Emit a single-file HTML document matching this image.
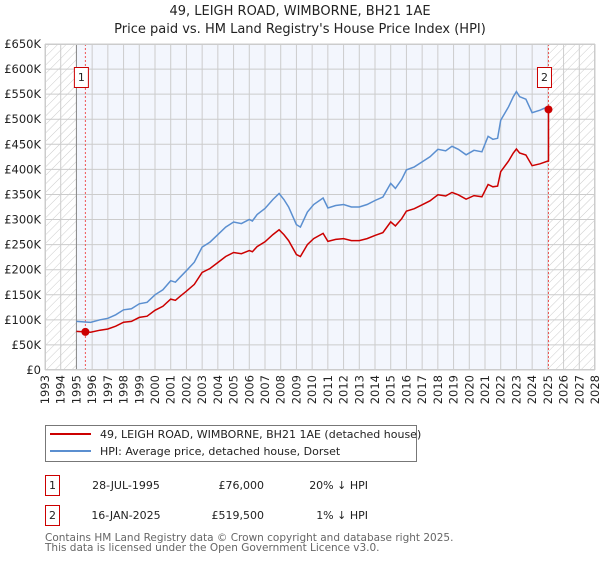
<!DOCTYPE html>
<html><head><meta charset="utf-8"><style>
body{margin:0;width:600px;height:560px;background:#fff;font-family:"DejaVu Sans","Liberation Sans",sans-serif;overflow:hidden}
svg text{font-family:"DejaVu Sans","Liberation Sans",sans-serif}
</style></head><body>
<svg id="chart" width="600" height="560">
<defs>
<pattern id="hatch" width="6" height="6" patternUnits="userSpaceOnUse" patternTransform="rotate(45)">
<rect width="6" height="6" fill="#fff"/><line x1="0" y1="0" x2="0" y2="6" stroke="#ccc" stroke-width="1"/>
</pattern>
</defs>
<text x="300" y="15" text-anchor="middle" font-size="13" fill="#222">49, LEIGH ROAD, WIMBORNE, BH21 1AE</text>
<text x="300" y="33" text-anchor="middle" font-size="13" fill="#222">Price paid vs. HM Land Registry's House Price Index (HPI)</text>
<g id="plot"></g>
<g id="legend">
<rect x="45.5" y="425.5" width="371" height="36" fill="#fff" stroke="#777"/>
<line x1="50" y1="434" x2="91" y2="434" stroke="#cc0000" stroke-width="2"/>
<text x="100" y="438" font-size="11" fill="#222">49, LEIGH ROAD, WIMBORNE, BH21 1AE (detached house)</text>
<line x1="50" y1="451" x2="91" y2="451" stroke="#5b8fd0" stroke-width="2"/>
<text x="100" y="455" font-size="11" fill="#222">HPI: Average price, detached house, Dorset</text>
</g>
<g font-size="11" fill="#222">
<rect x="45.5" y="475.5" width="14" height="20" fill="#fff" stroke="#cc0000"/>
<text x="52.5" y="489" text-anchor="middle">1</text>
<text x="126" y="489" text-anchor="middle">28-JUL-1995</text>
<text x="264" y="489" text-anchor="end">£76,000</text>
<text x="368" y="489" text-anchor="end">20% ↓ HPI</text>
<rect x="45.5" y="505.5" width="14" height="20" fill="#fff" stroke="#cc0000"/>
<text x="52.5" y="519" text-anchor="middle">2</text>
<text x="126" y="519" text-anchor="middle">16-JAN-2025</text>
<text x="264" y="519" text-anchor="end">£519,500</text>
<text x="368" y="519" text-anchor="end">1% ↓ HPI</text>
</g>
<text x="45" y="541" font-size="10.5" fill="#666">Contains HM Land Registry data © Crown copyright and database right 2025.</text>
<text x="45" y="551" font-size="10.5" fill="#666">This data is licensed under the Open Government Licence v3.0.</text>
</svg>
<script>
const hpiYears=[1995.0,1995.9,1996.5,1997.0,1997.5,1998.0,1998.5,1999.0,1999.5,2000.0,2000.5,2001.0,2001.3,2001.6,2002.0,2002.5,2003.0,2003.5,2004.0,2004.5,2005.0,2005.5,2006.0,2006.2,2006.5,2007.0,2007.5,2007.9,2008.2,2008.5,2009.0,2009.25,2009.7,2010.1,2010.7,2011.0,2011.5,2012.0,2012.5,2013.0,2013.5,2014.0,2014.5,2015.0,2015.3,2015.7,2016.0,2016.5,2017.0,2017.5,2018.0,2018.5,2018.9,2019.3,2019.8,2020.3,2020.8,2021.2,2021.5,2021.8,2022.0,2022.5,2022.8,2023.0,2023.2,2023.6,2024.0,2024.5,2025.0];
const hpiValues=[97,95,100,103,110,120,122,132,135,150,160,178,175,185,198,215,245,255,270,285,295,292,300,297,310,322,340,352,340,325,290,285,315,330,343,323,328,330,325,325,330,338,345,372,362,380,399,405,415,425,440,437,446,440,429,438,435,466,460,462,498,525,545,555,545,540,513,518,525];
const saleYears=[1995.57,2025.04];
const salePrices=[76,519.5];
const yTicks=[0,50,100,150,200,250,300,350,400,450,500,550,600,650];
const yTickLabels=["£0","£50K","£100K","£150K","£200K","£250K","£300K","£350K","£400K","£450K","£500K","£550K","£600K","£650K"];
const xYears=[1993,1994,1995,1996,1997,1998,1999,2000,2001,2002,2003,2004,2005,2006,2007,2008,2009,2010,2011,2012,2013,2014,2015,2016,2017,2018,2019,2020,2021,2022,2023,2024,2025,2026,2027,2028];

const L=45,R=595,T=44,B=370,X0=1993,X1=2028,YMAX=650;
const sx=y=>L+(y-X0)/(X1-X0)*(R-L);
const sy=v=>B-v/YMAX*(B-T);
const NS="http://www.w3.org/2000/svg";
const g=document.getElementById('plot');
function mk(tag,attrs,parent){const e=document.createElementNS(NS,tag);for(const k in attrs)e.setAttribute(k,attrs[k]);(parent||g).appendChild(e);return e;}
function hpiAt(t){for(let i=0;i<hpiYears.length-1;i++){if(t>=hpiYears[i]&&t<=hpiYears[i+1]){const f=(t-hpiYears[i])/(hpiYears[i+1]-hpiYears[i]);return hpiValues[i]+f*(hpiValues[i+1]-hpiValues[i]);}}return hpiValues[hpiValues.length-1];}

let e=mk('rect',{x:L,y:T,width:R-L,height:B-T,fill:'#f3f6fd'});


e=mk('rect',{x:L,y:T,width:sx(hpiYears[0])-L,height:B-T,fill:'url(#hatch)'});


e=mk('rect',{x:sx(saleYears[1]),y:T,width:R-sx(saleYears[1]),height:B-T,fill:'url(#hatch)'});



yTicks.forEach((v,i)=>{
  const l=mk('line',{x1:L,x2:R,y1:sy(v),y2:sy(v),stroke:'#cccccc','stroke-width':1});
  
  
  const t=mk('text',{x:L-4,y:sy(v)+4,'text-anchor':'end','font-size':11.5,fill:'#222'});
  t.textContent=yTickLabels[i];
  
  
});
xYears.forEach(yr=>{
  const l=mk('line',{x1:sx(yr),x2:sx(yr),y1:T,y2:B,stroke:'#cccccc','stroke-width':1});
  
  
  const x=sx(yr)+4,y=B+5;
  const t=mk('text',{x:x,y:y,'text-anchor':'end','font-size':11.5,fill:'#222',transform:`rotate(-90 ${x} ${y})`});
  t.textContent=yr;
  
  
});
e=mk('line',{x1:sx(hpiYears[0]),x2:sx(hpiYears[0]),y1:T,y2:B,stroke:'#888','stroke-width':1});


saleYears.forEach((yr,i)=>{
  const l=mk('line',{x1:sx(yr),x2:sx(yr),y1:T,y2:B,stroke:'#ee5555','stroke-width':1,'stroke-dasharray':'2,2'});
  
  
});

let d=hpiYears.map((yr,i)=>(i?'L':'M')+sx(yr).toFixed(1)+','+sy(hpiValues[i]).toFixed(1)).join('');
e=mk('path',{d:d,fill:'none',stroke:'#5b8fd0','stroke-width':1.5});



const ratio=salePrices[0]/hpiAt(saleYears[0]);
let pts=hpiYears.filter(yr=>yr<=saleYears[1]).map(yr=>[yr,hpiValues[hpiYears.indexOf(yr)]*ratio]);
pts.push([saleYears[1],hpiAt(saleYears[1])*ratio]);
pts.push([saleYears[1],salePrices[1]]);
d=pts.map((p,i)=>(i?'L':'M')+sx(p[0]).toFixed(1)+','+sy(p[1]).toFixed(1)).join('');
e=mk('path',{d:d,fill:'none',stroke:'#cc0000','stroke-width':1.5});



saleYears.forEach((yr,i)=>{
  const c=mk('circle',{cx:sx(yr),cy:sy(salePrices[i]),r:4,fill:'#cc0000'});
  
  
  const bx=mk('rect',{x:sx(yr)-11,y:67.5,width:14,height:20,fill:'#fff',stroke:'#cc0000'});
  
  
  const t=mk('text',{x:sx(yr)-4,y:81,'text-anchor':'middle','font-size':11,fill:'#222'});
  t.textContent=String(i+1);
  
  
});
e=mk('rect',{x:L+0.5,y:T+0.5,width:R-L-1,height:B-T-1,fill:'none',stroke:'#cccccc'});


</script>
</body></html>
